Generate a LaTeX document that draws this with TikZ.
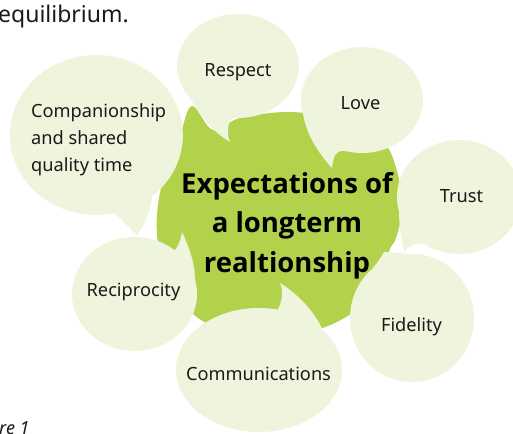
\documentclass[tikz,border=0pt]{standalone}
\usepackage{fontspec}
\setmainfont{Noto Sans}
\newfontfamily\titlefont{Open Sans}
\definecolor{bubblefill}{RGB}{238,245,220}
\definecolor{corefill}{RGB}{178,210,76}
\definecolor{inktext}{RGB}{26,26,26}
\begin{document}
\begin{tikzpicture}[x=1pt,y=-1pt,
  bubble/.style={fill=bubblefill},
  core/.style={fill=corefill},
  bubbletext/.style={font=\fontsize{18.2}{27}\selectfont, text=inktext, inner sep=0pt, anchor=base},
  titletext/.style={font=\titlefont\fontsize{27.5}{39.5}\selectfont\bfseries, text=black, inner sep=0pt, align=center, anchor=base},
  pagetext/.style={font=\fontsize{23}{28}\selectfont, text=inktext, inner sep=0pt, anchor=base west}]
\useasboundingbox (0,0) rectangle (513,433);
\clip (0,0) rectangle (513,433);

% surrounding document text
\node[pagetext] (para) at (-2,23) {equilibrium.};
\node[pagetext, font=\fontsize{18}{22}\selectfont\itshape] (caption) at (-1,434) {re 1};

% central blob
\fill[core] plot[smooth cycle, tension=0.6] coordinates {
  (160,255) (157,215) (165,172) (180,135) (192,106) (213,130) (240,118)
  (290,112) (340,120) (382,140) (398,175) (402,210) (396,238) (389,252)
  (394,270) (370,300) (328,326) (280,336) (230,331) (198,318) (175,292)};

% speech bubbles: ellipse body with a tail pointing at the blob
% Companionship
\fill[bubble] (152,196.3) arc[start angle=50, end angle=-282.4, x radius=86.5, y radius=80]
  .. controls (122,220) and (130,228) .. (137,235)
  .. controls (146,224) and (151,208) .. cycle;
% Respect
\fill[bubble] (232.7,117.8) arc[start angle=95, end angle=-220, x radius=61, y radius=52]
  .. controls (200,118) and (215,133) .. (230,142)
  .. controls (226,132) and (228,122) .. cycle;
% Love
\fill[bubble] (346.2,151.2) arc[start angle=105, end angle=-195, x radius=61, y radius=53]
  .. controls (306,135) and (320,155) .. (332,168)
  .. controls (333,158) and (335,149) .. cycle;
% Trust
\fill[bubble] (423.4,243.7) arc[start angle=125, end angle=-195, x radius=62, y radius=57]
  .. controls (399,228) and (402,242) .. (404,252)
  .. controls (408,246) and (415,243) .. cycle;
% Fidelity
\fill[bubble] (406.6,254.2) arc[start angle=265, end angle=590, x radius=62, y radius=64]
  .. controls (378,262) and (382,256) .. (384,252)
  .. controls (392,252) and (400,253) .. cycle;
% Communications
\fill[bubble] (322.6,330.1) arc[start angle=320, end angle=643, x radius=83, y radius=62]
  .. controls (283,300) and (283,290) .. (280,283)
  .. controls (298,294) and (315,312) .. cycle;
% Reciprocity
\fill[bubble] (194.9,279.2) arc[start angle=345, end angle=670, x radius=62.5, y radius=57]
  .. controls (179,246) and (181,238) .. (182,232)
  .. controls (188,245) and (195,262) .. cycle;

% labels (a multi-line node sits on the baseline of its last line)
\node[titletext] (title) at (287,272) {Expectations of\\a longterm\\realtionship};
\node[bubbletext, anchor=base west, align=left] (companion) at (31,171) {Companionship\\and shared\\quality time};
\node[bubbletext] (respect) at (238,77) {Respect};
\node[bubbletext] (love) at (360.5,110) {Love};
\node[bubbletext] (trust) at (461.5,202) {Trust};
\node[bubbletext] (fidelity) at (411.5,331) {Fidelity};
\node[bubbletext] (communications) at (258.5,380) {Communications};
\node[bubbletext] (reciprocity) at (133.5,296) {Reciprocity};
\end{tikzpicture}
\end{document}
